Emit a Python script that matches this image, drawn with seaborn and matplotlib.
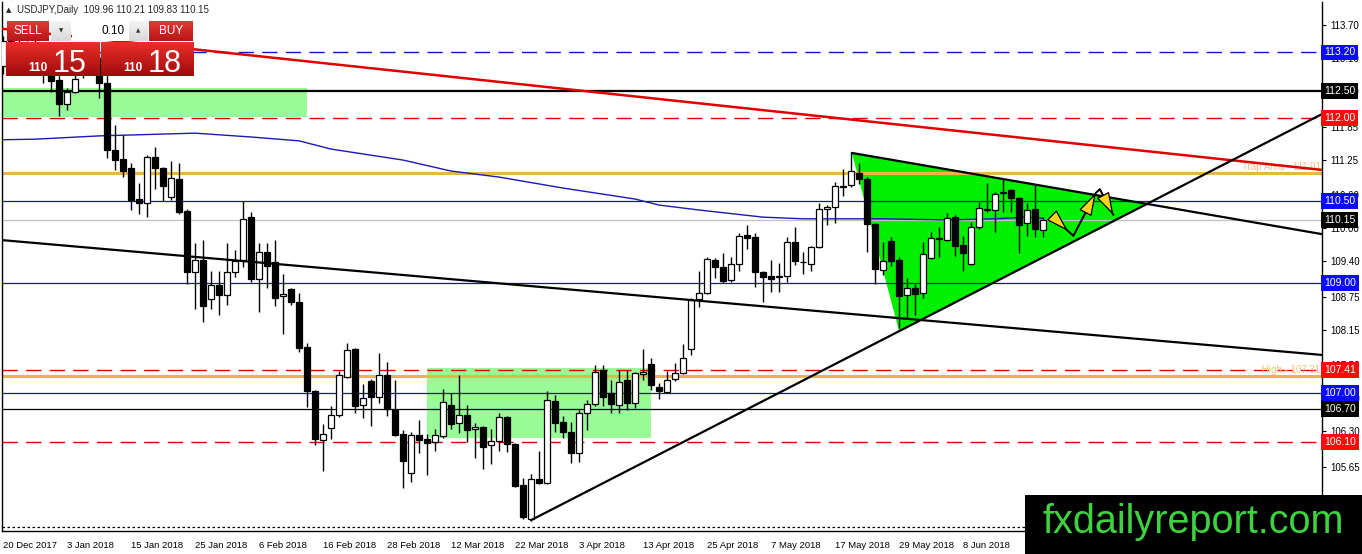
import numpy as np
import pandas as pd
import matplotlib
matplotlib.use("Agg")
import matplotlib.pyplot as plt
import seaborn as sns
from matplotlib.patches import Rectangle, Polygon
from matplotlib.colors import LinearSegmentedColormap
import matplotlib.transforms as mtransforms

sns.set_style("white")
plt.rcParams['font.family'] = ['Liberation Sans Narrow', 'Liberation Sans', 'DejaVu Sans']

# ---- daily candles USDJPY, 20 Dec 2017 .. 22 Jun 2018 ----
opens = [112.95, 113.40, 113.35, 113.28, 113.20, 113.25, 112.80, 112.70, 112.26, 112.48,
         112.90, 113.05, 113.10, 112.64, 111.42, 111.26, 111.10, 110.53, 110.46, 111.30,
         111.10, 110.57, 110.89, 110.31, 109.20, 109.42, 108.71, 108.96, 108.78, 109.20,
         109.42, 110.20, 109.07, 109.57, 109.38, 108.76, 108.89, 108.65, 107.83, 107.03,
         106.14, 106.36, 106.60, 107.29, 107.80, 106.78, 107.22, 106.92, 107.33, 106.69,
         106.25, 105.54, 106.23, 106.16, 106.10, 106.21, 106.78, 106.45, 106.60, 106.34,
         106.38, 106.05, 106.12, 106.56, 106.07, 105.32, 104.70, 105.43, 105.36, 106.85,
         106.47, 106.29, 105.90, 106.63, 106.80, 107.42, 107.00, 106.78, 107.23, 106.81,
         107.34, 107.52, 107.11, 107.02, 107.25, 107.36, 107.80, 108.71, 108.82, 109.42,
         109.29, 109.06, 109.35, 109.87, 109.84, 109.20, 109.13, 109.11, 109.13, 109.75,
         109.38, 109.35, 109.66, 110.35, 110.38, 110.75, 110.79, 111.00, 110.89, 110.08,
         109.24, 109.77, 109.42, 108.78, 108.91, 108.82, 109.46, 109.80, 109.78, 110.20,
         109.69, 109.35, 110.02, 110.33, 110.33, 110.64, 110.69, 110.55, 110.09, 110.35,
         109.96]
highs = [113.50, 113.60, 113.50, 113.40, 113.45, 113.30, 112.85, 112.80, 112.55, 112.85,
         113.15, 113.30, 113.20, 112.80, 111.88, 111.70, 111.19, 110.82, 111.33, 111.48,
         111.11, 111.22, 111.19, 110.35, 109.73, 109.78, 109.22, 109.22, 109.73, 109.60,
         110.49, 110.29, 109.73, 109.73, 109.78, 109.16, 108.91, 108.82, 107.91, 107.05,
         106.43, 106.76, 107.40, 107.91, 107.82, 107.16, 107.25, 107.73, 107.56, 107.23,
         106.32, 106.29, 106.51, 106.25, 106.34, 107.07, 106.99, 107.33, 106.78, 106.45,
         106.40, 106.34, 106.63, 106.58, 106.09, 105.45, 105.52, 105.94, 107.03, 106.96,
         106.58, 106.47, 106.69, 106.87, 107.51, 107.51, 107.23, 107.42, 107.42, 107.38,
         107.80, 107.63, 107.18, 107.40, 107.54, 107.89, 108.73, 109.22, 109.47, 109.46,
         109.55, 109.47, 109.91, 110.06, 109.91, 109.22, 109.42, 109.36, 109.84, 110.02,
         109.57, 109.67, 110.46, 110.42, 110.84, 111.08, 111.37, 111.19, 110.93, 110.09,
         109.75, 109.84, 109.47, 109.09, 108.98, 109.75, 109.93, 110.02, 110.28, 110.24,
         109.86, 110.11, 110.48, 110.82, 110.66, 110.90, 110.71, 110.57, 110.46, 110.79,
         110.21]
lows = [112.80, 113.20, 113.10, 113.10, 113.00, 112.64, 112.48, 112.04, 112.15, 112.46,
        112.73, 112.90, 112.37, 111.28, 111.06, 110.93, 110.33, 110.26, 110.20, 110.71,
        110.49, 110.51, 110.26, 108.98, 108.53, 108.29, 108.53, 108.42, 108.60, 109.11,
        109.29, 109.02, 108.47, 108.91, 108.58, 108.07, 108.60, 107.74, 106.74, 106.05,
        105.58, 106.16, 106.56, 107.27, 106.63, 106.54, 106.40, 106.81, 106.58, 106.21,
        105.27, 105.38, 105.90, 105.50, 105.94, 106.18, 106.34, 106.27, 106.10, 105.81,
        105.61, 105.70, 105.94, 105.92, 105.28, 104.70, 104.66, 105.34, 105.34, 106.29,
        106.18, 105.72, 105.74, 106.32, 106.76, 106.76, 106.63, 106.63, 106.69, 106.72,
        107.23, 107.05, 106.89, 107.00, 107.22, 107.34, 107.69, 108.56, 108.80, 109.09,
        109.00, 109.02, 109.22, 109.62, 108.93, 108.65, 108.84, 108.84, 109.02, 109.33,
        109.16, 109.22, 109.64, 110.06, 110.09, 110.59, 110.75, 110.80, 109.57, 108.98,
        109.15, 109.31, 108.18, 108.36, 108.42, 108.73, 109.44, 109.47, 109.76, 109.49,
        109.22, 109.33, 109.98, 110.29, 109.93, 110.29, 110.29, 109.55, 109.86, 109.84,
        109.83]
closes = [113.40, 113.35, 113.28, 113.20, 113.25, 112.80, 112.68, 112.26, 112.48, 112.72,
          113.05, 113.10, 112.64, 111.42, 111.24, 111.04, 110.51, 110.46, 111.30, 111.10,
          110.77, 110.91, 110.29, 109.20, 109.42, 108.58, 108.96, 108.78, 109.20, 109.40,
          110.17, 109.07, 109.57, 109.31, 108.73, 108.80, 108.65, 107.82, 107.03, 106.16,
          106.25, 106.60, 107.33, 107.78, 106.76, 106.91, 106.92, 107.33, 106.71, 106.23,
          105.76, 106.23, 106.14, 106.09, 106.23, 106.83, 106.43, 106.60, 106.32, 106.38,
          106.01, 106.12, 106.56, 106.07, 105.30, 104.74, 105.43, 105.36, 106.87, 106.45,
          106.29, 105.90, 106.63, 106.80, 107.38, 106.92, 106.80, 107.20, 106.81, 107.36,
          107.38, 107.14, 107.03, 107.23, 107.36, 107.63, 108.69, 108.82, 109.44, 109.29,
          109.04, 109.35, 109.86, 109.82, 109.20, 109.11, 109.07, 109.13, 109.75, 109.40,
          109.38, 109.66, 110.35, 110.38, 110.77, 110.77, 111.04, 110.89, 110.08, 109.26,
          109.40, 109.40, 108.76, 108.91, 108.80, 109.53, 109.82, 109.82, 110.18, 109.67,
          109.55, 110.02, 110.37, 110.35, 110.62, 110.66, 110.55, 110.06, 110.33, 109.98,
          110.15]

# moving average (blue curve), sampled at bar numbers
ma_bars = [0, 4, 12, 24, 31, 37, 41, 50, 56, 62, 70, 79, 82, 87, 95, 100, 105, 110, 118, 124, 128, 130]
ma_vals = [111.61, 111.62, 111.68, 111.73, 111.66, 111.59, 111.44, 111.24, 111.04, 110.93, 110.73,
           110.53, 110.42, 110.33, 110.20, 110.17, 110.17, 110.17, 110.15, 110.17, 110.20, 110.18]

# horizontal levels: (price, colour, style, width)
levels = [(113.20, '#1414c8', 'dash', 1.0), (112.50, 'black', 'solid', 1.6),
          (112.00, '#dd0000', 'dash', 1.0), (111.01, '#e9b44c', 'solid', 2.2),
          (110.50, '#1414b4', 'solid', 0.9), (110.15, '#c0c0c0', 'solid', 0.9),
          (109.00, '#1414b4', 'solid', 0.9), (107.41, '#dd0000', 'dash', 1.0),
          (107.31, '#e9b44c', 'solid', 2.2), (107.00, '#1414b4', 'solid', 0.9),
          (106.70, 'black', 'solid', 0.9), (106.10, '#dd0000', 'dash', 1.0)]
tags = [(113.20, '#0a0aff'), (112.50, 'black'), (112.00, '#ff0a0a'), (110.50, '#0a0aff'),
        (110.15, 'black'), (109.00, '#0a0aff'), (107.41, '#ff0a0a'), (107.00, '#0a0aff'),
        (106.70, 'black'), (106.10, '#ff0a0a')]
price_ticks = [113.70, 113.10, 112.50, 111.85, 111.25, 110.60, 110.00, 109.40, 108.75,
               108.15, 107.50, 106.90, 106.30, 105.65, 105.05]

# zones (bar from, bar to, price low, price high)
zone_top = [0, 38, 112.02, 112.55]
zone_low = [53, 81, 106.18, 107.45]

# trend lines: [bar0, price0, bar1, price1]
red_line = [0, 113.63, 164.9, 111.06]
down_line = [0, 109.78, 164.9, 107.69]
up_line = [66, 104.68, 164.9, 112.08]
wedge_top = [106.1, 111.37, 164.9, 109.89]
wedge_bottom = [112.0, 108.13]

# yellow arrows path (bar, price)
arrow_pts = [(131.2, 110.22), (133.1, 109.95), (133.8, 109.86), (136.6, 110.64),
             (137.1, 110.71), (138.8, 110.24)]

holidays = [pd.Timestamp('2017-12-25'), pd.Timestamp('2018-01-01')]
dates = [d for d in pd.bdate_range('2017-12-20', '2018-06-22') if d not in holidays]

W, H = 1362, 554
fig = plt.figure(figsize=(W / 100, H / 100), dpi=100)
ax = fig.add_axes([2 / W, (H - 531) / H, (1322 - 2) / W, (531 - 2) / H])

n = len(opens)
o, h, l, c = map(np.array, (opens, highs, lows, closes))
idx = np.arange(n)

# zones
for z in (zone_top, zone_low):
    ax.add_patch(Rectangle((z[0], z[2]), z[1] - z[0], z[3] - z[2], fc='#98fb98', ec='none', zorder=1))

# green wedge
def line_at(ln, x):
    return ln[1] + (ln[3] - ln[1]) * (x - ln[0]) / (ln[2] - ln[0])

s1 = (wedge_top[3] - wedge_top[1]) / (wedge_top[2] - wedge_top[0])
s2 = (up_line[3] - up_line[1]) / (up_line[2] - up_line[0])
xi = (up_line[1] - wedge_top[1] + s1 * wedge_top[0] - s2 * up_line[0]) / (s1 - s2)
ax.add_patch(Polygon([(wedge_top[0], wedge_top[1]), (wedge_bottom[0], wedge_bottom[1]),
                      (xi, line_at(up_line, xi))], closed=True, fc='#00f000', ec='none', zorder=1.2))

# horizontal lines
for p, col, st, lw in levels:
    ls = (0, (11, 6)) if st == 'dash' else '-'
    ax.axhline(p, color=col, lw=lw, ls=ls, zorder=2)
ax.axhline(104.56, color='black', lw=0.9, ls=(0, (2, 2)), zorder=2)

ax.text(164.7, 111.03, 'Trap Area - 111.01', color='#f0c27c', fontsize=7, ha='right', va='bottom', zorder=2.5)
ax.text(164.7, 107.32, 'High - 107.31', color='#f0c27c', fontsize=7, ha='right', va='bottom', zorder=2.5)

# moving average
sns.lineplot(x=ma_bars, y=ma_vals, ax=ax, color='#1a1ab4', lw=1.0, zorder=2.6)

# candles
up = c >= o
bot = np.minimum(o, c)
bh = np.maximum(np.abs(c - o), 0.004)
ax.vlines(idx, l, h, color='black', lw=1.0, zorder=3)
ax.bar(idx[up], bh[up], bottom=bot[up], width=0.66, color='white', edgecolor='black', linewidth=0.9, zorder=4)
ax.bar(idx[~up], bh[~up], bottom=bot[~up], width=0.66, color='black', edgecolor='black', linewidth=0.9, zorder=4)

# trend lines
ax.plot([red_line[0], red_line[2]], [red_line[1], red_line[3]], color='#e00000', lw=1.8, zorder=5)
for ln in (down_line, up_line, wedge_top):
    ax.plot([ln[0], ln[2]], [ln[1], ln[3]], color='black', lw=1.6, zorder=5)

# arrows: black shafts with yellow heads
ax.plot([p[0] for p in arrow_pts], [p[1] for p in arrow_pts], color='black', lw=1.4, zorder=6)
for (a, b) in ((0, 1), (2, 3), (4, 5)):
    ax.annotate('', xy=arrow_pts[b], xytext=arrow_pts[a],
                arrowprops=dict(arrowstyle='-|>,head_length=1.3,head_width=0.4', mutation_scale=11,
                                fc='#ffd21a', ec='black', lw=0.9, shrinkA=0, shrinkB=0),
                zorder=7)

ax.set_xlim(-0.125, 164.875)
ax.set_ylim(104.483, 114.119)

ax.yaxis.tick_right()
ax.set_yticks(price_ticks)
ax.set_yticklabels([f'{v:.2f}' for v in price_ticks])
ax.tick_params(axis='y', direction='out', length=3, width=0.8, pad=3, labelsize=7, colors='black')
xt = list(range(0, n, 8))
ax.set_xticks(xt)
ax.set_xticklabels([f'{dates[i].day} {dates[i]:%b %Y}' for i in xt])
ax.tick_params(axis='x', direction='out', length=4, width=0.8, pad=3, labelsize=6.8, colors='black')
for lb in ax.get_xticklabels():
    lb.set_ha('left')
for side in ('left', 'bottom', 'right'):
    ax.spines[side].set_color('black')
    ax.spines[side].set_linewidth(1.0)
ax.spines['top'].set_visible(False)
ax.grid(False)

trans = mtransforms.blended_transform_factory(ax.transAxes, ax.transData)
for p, col in tags:
    ax.text(1.0015, p, f'{p:.2f}', transform=trans, color='white', fontsize=7.5, ha='left', va='center',
            bbox=dict(boxstyle='square,pad=0.28', fc=col, ec='none'), clip_on=False, zorder=10)

# header
fig.text(6 / W, 1 - 10 / H, '\u25b2', fontsize=5, va='center', family='DejaVu Sans')
fig.text(17 / W, 1 - 10 / H, 'USDJPY,Daily  109.96 110.21 109.83 110.15', fontsize=7, va='center')

# one-click trading panel
def box(x0, y0, x1, y1, top, bottom):
    bx = fig.add_axes([x0 / W, 1 - y1 / H, (x1 - x0) / W, (y1 - y0) / H])
    cm = LinearSegmentedColormap.from_list('g', [top, bottom])
    bx.imshow(np.linspace(0, 1, 64).reshape(-1, 1), aspect='auto', cmap=cm, extent=[0, 1, 0, 1])
    bx.set_axis_off()
    return bx

box(7, 21, 49, 41, '#e23a36', '#b81515')
box(149, 21, 193, 41, '#e23a36', '#b81515')
box(6, 42, 99, 76, '#e8302c', '#a10a0a')
box(101, 42, 193, 76, '#e8302c', '#a10a0a')
box(51, 21, 71, 41, '#f4f4f4', '#d8d8d8')
box(72, 21, 128, 41, '#ffffff', '#ffffff')
box(129, 21, 148, 41, '#f4f4f4', '#d8d8d8')
fig.text(28 / W, 1 - 31 / H, 'SELL', color='white', fontsize=8.5, ha='center', va='center')
fig.text(171 / W, 1 - 31 / H, 'BUY', color='white', fontsize=8.5, ha='center', va='center')
fig.text(125 / W, 1 - 31 / H, '0.10', color='black', fontsize=8.5, ha='right', va='center')
fig.text(61 / W, 1 - 31 / H, '\u25bc', color='#333333', fontsize=4, ha='center', va='center', family='DejaVu Sans')
fig.text(138 / W, 1 - 31 / H, '\u25b2', color='#333333', fontsize=4, ha='center', va='center', family='DejaVu Sans')
for xs, xb, txt in ((38, 70, '15'), (133, 165, '18')):
    fig.text(xs / W, 1 - 71 / H, '110', color='white', fontsize=8.5, fontweight='bold', ha='center', va='baseline')
    fig.text(xb / W, 1 - 72 / H, txt, color='white', fontsize=22, ha='center', va='baseline')

# watermark
fig.add_artist(Rectangle((1025 / W, 0), (W - 1025) / W, 59 / H, transform=fig.transFigure, fc='black', ec='none', zorder=20))
fig.text(1193 / W, 1 - 522 / H, 'fxdailyreport.com', color='#3fd23f', fontsize=28.5, ha='center', va='center',
         family='Liberation Sans', zorder=21)

fig.savefig('out.png', dpi=100, facecolor='white')
